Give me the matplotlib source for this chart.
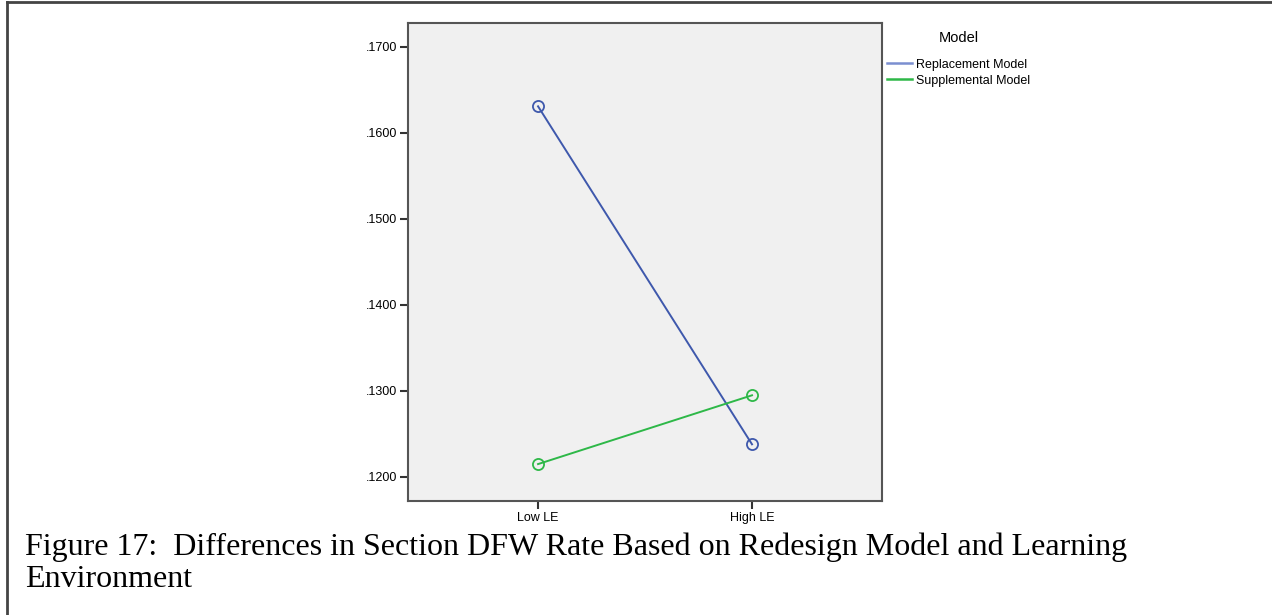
import matplotlib.pyplot as plt
from matplotlib.lines import Line2D

# data
categories = ['Low LE', 'High LE']
replacement = [0.1631, 0.1238]
supplemental = [0.1215, 0.1295]
yticks = [0.12, 0.13, 0.14, 0.15, 0.16, 0.17]
ytick_labels = ['.1200', '.1300', '.1400', '.1500', '.1600', '.1700']
caption_lines = ['Figure 17:  Differences in Section DFW Rate Based on Redesign Model and Learning',
                 'Environment']

blue = '#3E58AC'
green = '#2EB848'

fig = plt.figure(figsize=(12.72, 6.15), dpi=100)
ax = fig.add_axes([0.3208, 0.1854, 0.3726, 0.7772])
ax.set_facecolor('#F0F0F0')

x = list(range(len(categories)))
ax.plot(x, replacement, color=blue, lw=1.4, marker='o', ms=8,
        mfc='none', mec=blue, mew=1.3)
ax.plot(x, supplemental, color=green, lw=1.4, marker='o', ms=8,
        mfc='none', mec=green, mew=1.3)

ax.set_xlim(-0.6075, 1.6075)
ax.set_ylim(0.11721, 0.17279)
ax.set_xticks(x)
ax.set_xticklabels(categories, fontsize=9, family='Liberation Sans')
ax.set_yticks(yticks)
ax.set_yticklabels(ytick_labels, fontsize=9, family='Liberation Sans')
ax.tick_params(direction='out', length=6, width=1.5, color='#333333', pad=2)
for s in ax.spines.values():
    s.set_color('#555555')
    s.set_linewidth(1.5)

# legend shows only the lines
handles = [Line2D([], [], color='#7B8FD0', lw=1.8),
           Line2D([], [], color=green, lw=1.8)]
leg = fig.legend(handles, ['Replacement Model', 'Supplemental Model'],
                 loc='upper left', bbox_to_anchor=(0.6885, 0.968), title='Model',
                 frameon=False, prop={'family': 'Liberation Sans', 'size': 9},
                 handlelength=2.0, handletextpad=0.3, labelspacing=0.3)
leg.get_title().set_fontfamily('Liberation Sans')
leg.get_title().set_fontsize(10.5)
leg._legend_box.align = 'center'
leg._legend_box.sep = 10

fig.text(25 / 1272, 1 - 555 / 615, caption_lines[0], fontsize=23,
         family='Liberation Serif', va='baseline', ha='left')
fig.text(25 / 1272, 1 - 587 / 615, caption_lines[1], fontsize=23,
         family='Liberation Serif', va='baseline', ha='left')

# page frame lines (top and left)
fig.add_artist(Line2D([7 / 1272, 1], [1 - 2 / 615, 1 - 2 / 615], color='#444444', lw=2))
fig.add_artist(Line2D([7 / 1272, 7 / 1272], [0, 1 - 2 / 615], color='#444444', lw=2))

fig.savefig('out.png', dpi=100)
